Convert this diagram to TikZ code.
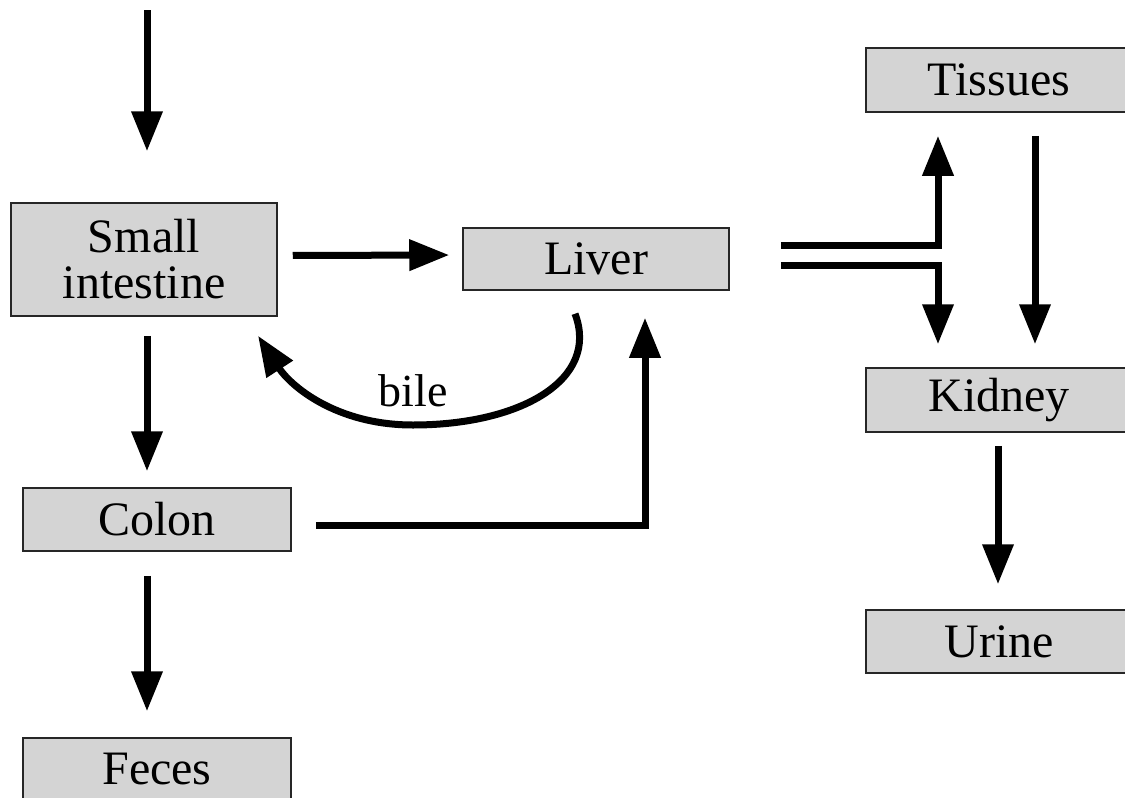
\documentclass[tikz,border=0pt]{standalone}
\usepackage{fontspec}
\setmainfont{Liberation Serif}
\usetikzlibrary{arrows.meta,calc}
\tikzset{
  box/.style={draw=black!85, line width=1.5pt, fill=black!17, inner sep=0pt,
    font=\fontsize{48pt}{46pt}\selectfont, align=center},
  arr/.style={line width=7pt, -{Triangle[length=40pt,width=30pt]}},
}
\begin{document}
\begin{tikzpicture}[x=1pt,y=-1pt]
\useasboundingbox (0,0) rectangle (1125,798);
\node[box, minimum width=266pt, minimum height=113pt] (small) at (144,259.5) {Small\\intestine};
\node[box, minimum width=266pt, minimum height=62pt] (liver) at (596,259) {Liver};
\node[box, minimum width=268pt, minimum height=63pt] (colon) at (157,519.5) {Colon};
\node[box, minimum width=268pt, minimum height=62pt] (feces) at (157,769) {Feces};
\node[box, minimum width=266pt, minimum height=64pt] (tissues) at (999,80) {Tissues};
\node[box, minimum width=266pt, minimum height=64pt] (kidney) at (999,400) {Kidney};
\node[box, minimum width=266pt, minimum height=63pt] (urine) at (999,641.5) {Urine};
\coordinate (in) at (147,10);
% top input
\draw[arr, shorten >=51pt] (in) -- ([xshift=3pt]small.north);
% small -> liver
\draw[arr, shorten <=15pt, shorten >=13pt] ([yshift=4pt]small.east) -- ([yshift=4pt]liver.west);
% small -> colon
\draw[arr, shorten <=19pt, shorten >=16pt] ([xshift=3pt]small.south) -- ([xshift=-10pt]colon.north);
% colon -> feces
\draw[arr, shorten <=24pt, shorten >=26pt] ([xshift=-10pt]colon.south) -- ([xshift=-10pt]feces.north);
% colon -> liver
\draw[arr, shorten <=24pt, shorten >=27pt] ([yshift=-5.5pt]colon.east) -| ([xshift=49pt]liver.south);
% bile
\draw[arr] ([xshift=-21pt,yshift=-23pt]liver.south)
   .. controls (600,380) and (520,425) .. (413,425)
   .. controls (335,425) and (290,385) .. ([xshift=114pt,yshift=-19pt]small.south);
\node[font=\fontsize{46pt}{46pt}\selectfont, inner sep=0pt] (bile) at (413,391) {bile};
% liver -> tissues / kidney
\draw[arr, shorten <=51pt, shorten >=23pt] ([yshift=14pt]liver.east) -| ([xshift=-61pt]tissues.south);
\draw[arr, shorten <=51pt, shorten >=23pt] ([yshift=-6pt]liver.east) -| ([xshift=-61pt]kidney.north);
% tissues -> kidney
\draw[arr, shorten <=23pt, shorten >=23pt] ([xshift=36pt]tissues.south) -- ([xshift=36pt]kidney.north);
% kidney -> urine
\draw[arr, shorten <=13pt, shorten >=25pt] ([xshift=-1pt]kidney.south) -- ([xshift=-1pt]urine.north);
\end{tikzpicture}
\end{document}
